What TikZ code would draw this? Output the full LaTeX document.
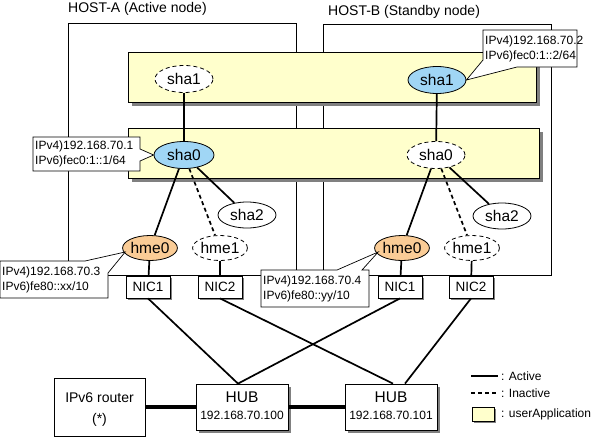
\documentclass[tikz,border=0pt]{standalone}
\usepackage{fontspec}
\setmainfont{Liberation Sans}
\usetikzlibrary{shapes.geometric,shadows}
\definecolor{appyellow}{RGB}{255,255,204}
\definecolor{actblue}{RGB}{160,214,245}
\definecolor{hmeorange}{RGB}{250,204,150}
\definecolor{shadowgray}{RGB}{128,128,128}
\begin{document}
\begin{tikzpicture}[x=1pt,y=-1pt,
  every node/.style={font=\fontsize{12}{15}\selectfont},
  ell/.style={ellipse,draw,fill=white,minimum width=58pt,minimum height=27pt,inner sep=0pt,line width=0.8pt,font=\fontsize{15.5}{18}\selectfont},
  hmeell/.style={ell,minimum width=53pt,minimum height=25pt},
  inact/.style={dash pattern=on 4pt off 3pt},
  link/.style={line width=1.7pt},
  nic/.style={draw,fill=white,minimum width=44pt,minimum height=22pt,inner sep=0pt,line width=0.8pt,font=\fontsize{13.5}{16}\selectfont,
    drop shadow={shadow xshift=2pt,shadow yshift=-2pt,fill=shadowgray,opacity=1}},
  hub/.style={draw,fill=white,minimum width=92pt,minimum height=46pt,inner sep=0pt,line width=0.8pt,
    drop shadow={shadow xshift=3pt,shadow yshift=-3pt,fill=shadowgray,opacity=1}},
  lbl/.style={anchor=west,align=left,inner sep=0pt,font=\fontsize{12}{15}\selectfont},
  callout/.style={draw,fill=white,line width=0.7pt},
  thickl/.style={line width=3.5pt},
  big/.style={font=\fontsize{15.5}{18}\selectfont},
  mid/.style={font=\fontsize{14}{16}\selectfont}
]
\useasboundingbox (0,0) rectangle (592,437);

% titles
\node[mid,anchor=west,inner sep=0pt] (titleA) at (68,9) {HOST-A (Active node)};
\node[mid,anchor=west,inner sep=0pt] (titleB) at (328,12) {HOST-B (Standby node)};

% host boxes
\draw[fill=white,line width=0.8pt] (68,23) rectangle (296,275);
\draw[fill=white,line width=0.8pt] (323,24) rectangle (551,275);

% userApplication boxes
\fill[shadowgray] (132,56) rectangle (540,106);
\draw[fill=appyellow,line width=0.8pt] (128,52) rectangle (536,102);
\fill[shadowgray] (132,132) rectangle (543,182);
\draw[fill=appyellow,line width=0.8pt] (128,128) rectangle (539,178);

% interfaces
\node[ell,inact] (sha1A) at (184,79) {sha1};
\node[ell,fill=actblue] (sha1B) at (437,80) {sha1};
\node[ell,fill=actblue,minimum width=60pt] (sha0A) at (184,155) {sha0};
\node[ell,inact] (sha0B) at (436,155) {sha0};
\node[ell,minimum height=26pt] (sha2A) at (247,215) {sha2};
\node[ell,minimum height=26pt] (sha2B) at (502,216) {sha2};
\node[hmeell,fill=hmeorange] (hme0A) at (150,248) {hme0};
\node[hmeell,inact] (hme1A) at (220,248) {hme1};
\node[hmeell,fill=hmeorange] (hme0B) at (402,248) {hme0};
\node[hmeell,inact] (hme1B) at (472,248) {hme1};

% NICs
\node[nic] (NIC1A) at (148,287) {NIC1};
\node[nic] (NIC2A) at (220,287) {NIC2};
\node[nic] (NIC1B) at (400,287) {NIC1};
\node[nic] (NIC2B) at (471,287) {NIC2};

% links inside hosts
\draw[link] (sha1A) -- (sha0A);
\draw[link] (sha0A) -- (hme0A);
\draw[link,inact] (sha0A) -- (hme1A);
\draw[link] (sha0A) -- (sha2A);
\draw[link] (sha1B) -- (sha0B);
\draw[link] (sha0B) -- (hme0B);
\draw[link,inact] (sha0B) -- (hme1B);
\draw[link] (sha0B) -- (sha2B);
\draw[link] (hme0A) -- (NIC1A);
\draw[link] (hme1A) -- (NIC2A);
\draw[link] (hme0B) -- (NIC1B);
\draw[link] (hme1B) -- (NIC2B);

% HUBs and router
\node[hub] (HUB1) at (242,407) {};
\node[hub] (HUB2) at (391,407) {};
\node[big] (hub1t) at (242,397) {HUB};
\node (hub1ip) at (242,415) {192.168.70.100};
\node[big] (hub2t) at (391,397) {HUB};
\node (hub2ip) at (391,415) {192.168.70.101};
\node[draw,fill=white,minimum width=91pt,minimum height=58pt,line width=0.8pt] (router) at (99.5,407) {};
\node[mid] (routert) at (99.5,398) {IPv6 router};
\node[mid] (routers) at (99.5,420) {(*)};

% network links
\draw[link] (NIC1A.south) -- ([xshift=-4pt]HUB1.north);
\draw[link] (NIC1B.south) -- ([xshift=-4pt]HUB1.north);
\draw[link] (NIC2A.south) -- ([xshift=2pt]HUB2.north);
\draw[link] (NIC2B.south) -- ([xshift=14pt]HUB2.north);
\draw[thickl] (router.east) -- (HUB1.west);
\draw[thickl] (HUB1.east) -- (HUB2.west);

% callouts
\draw[callout] (33,137) -- (140,137) -- (140,149) -- (sha0A.west) -- (140,161) -- (140,171) -- (33,171) -- cycle;
\node[lbl] (lblsha0A) at (35,154) {IPv4)192.168.70.1\\IPv6)fec0:1::1/64};
\draw[callout] (483,30) -- (577,30) -- (577,67) -- (517,67) -- (sha1B.east) -- (483,60) -- cycle;
\node[lbl] (lblsha1B) at (485,48.5) {IPv4)192.168.70.2\\IPv6)fec0:1::2/64};
\draw[callout] (0,261) -- (85,261) -- ([xshift=3pt,yshift=-4pt]hme0A.west) -- (108,273) -- (108,298) -- (0,298) -- cycle;
\node[lbl] (lblhme0A) at (2,279.5) {IPv4)192.168.70.3\\IPv6)fe80::xx/10};
\draw[callout] (261,270) -- (337,270) -- ([xshift=4pt,yshift=-4pt]hme0B.west) -- (362,270) -- (369,270) -- (369,307) -- (261,307) -- cycle;
\node[lbl] (lblhme0B) at (263,288.5) {IPv4)192.168.70.4\\IPv6)fe80::yy/10};

% legend
\coordinate (la1) at (471,376);
\coordinate (la2) at (498,376);
\draw[link] (la1) -- (la2);
\node[anchor=west,inner sep=0pt] (legA) at (501,376) {: Active};
\coordinate (li1) at (471,393);
\coordinate (li2) at (498,393);
\draw[link,inact] (li1) -- (li2);
\node[anchor=west,inner sep=0pt] (legI) at (501,393) {: Inactive};
\fill[shadowgray] (474,409) rectangle (496,423);
\draw[fill=appyellow,line width=0.8pt] (472,407) rectangle (494,421);
\node[anchor=west,inner sep=0pt] (legU) at (501,414) {: userApplication};
\end{tikzpicture}
\end{document}
